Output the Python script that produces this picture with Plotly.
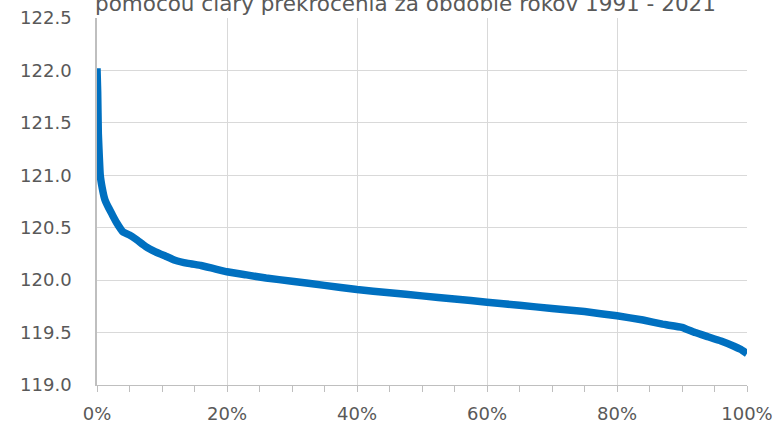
import plotly.graph_objects as go

# Exceedance curve of water levels, 1991 - 2021
exceedance_pct = [0, 0.1, 0.2, 0.3, 0.5, 0.8, 1.2, 1.7, 2.3, 3.0, 4.0, 5.0, 6.0,
                  7.5, 9.0, 10.5, 12.0, 14.0, 16.0, 18.0, 20.0, 23.0, 26.0, 30.0,
                  35.0, 40.0, 45.0, 50.0, 55.0, 60.0, 65.0, 70.0, 75.0, 80.0,
                  84.0, 87.0, 90.0, 92.0, 94.0, 96.0, 98.0, 99.0, 100.0]
level = [122.02, 121.80, 121.40, 121.25, 121.00, 120.88, 120.77, 120.70, 120.63,
         120.55, 120.46, 120.43, 120.39, 120.32, 120.27, 120.23, 120.19, 120.16,
         120.14, 120.11, 120.08, 120.05, 120.02, 119.99, 119.95, 119.91, 119.88,
         119.85, 119.82, 119.79, 119.76, 119.73, 119.70, 119.66, 119.62, 119.58,
         119.55, 119.50, 119.46, 119.42, 119.37, 119.34, 119.30]

title_text = "pomocou čiary prekročenia za obdobie rokov 1991 - 2021"

FONT = "DejaVu Sans"
TEXT = "#595959"
GRID = "#D9D9D9"
AXIS = "#BFBFBF"

fig = go.Figure()
fig.add_trace(go.Scatter(
    x=exceedance_pct, y=level, mode="lines",
    line=dict(color="#0070C0", width=7.5, shape="spline", smoothing=0.3),
    hoverinfo="skip", showlegend=False,
))

fig.update_layout(
    width=777, height=427,
    margin=dict(l=97, r=30, t=18, b=42),
    paper_bgcolor="white", plot_bgcolor="white",
    font=dict(family=FONT, size=18, color=TEXT),
    annotations=[dict(
        text=title_text, xref="paper", yref="paper",
        x=-0.006, xanchor="left", y=1.0, yanchor="bottom",
        showarrow=False, font=dict(family=FONT, size=21.5, color=TEXT),
    )],
)

fig.update_xaxes(
    range=[0, 100], dtick=20, ticksuffix="%", automargin=False,
    showgrid=True, gridcolor=GRID, gridwidth=1,
    showline=True, linecolor=AXIS, linewidth=1,
    ticks="outside", ticklen=6, tickcolor=AXIS, ticklabelstandoff=6,
    minor=dict(dtick=5, ticks="outside", ticklen=6, tickcolor=AXIS, showgrid=False),
    zeroline=False, tickfont=dict(size=18, color=TEXT),
)
fig.update_yaxes(
    range=[119.0, 122.5], dtick=0.5, tickformat=".1f", automargin=False,
    showgrid=True, gridcolor=GRID, gridwidth=1,
    showline=True, linecolor=AXIS, linewidth=1.5,
    ticks="", zeroline=False, ticklabelstandoff=20,
    tickfont=dict(size=18, color=TEXT),
)

fig.write_html("out.html")
